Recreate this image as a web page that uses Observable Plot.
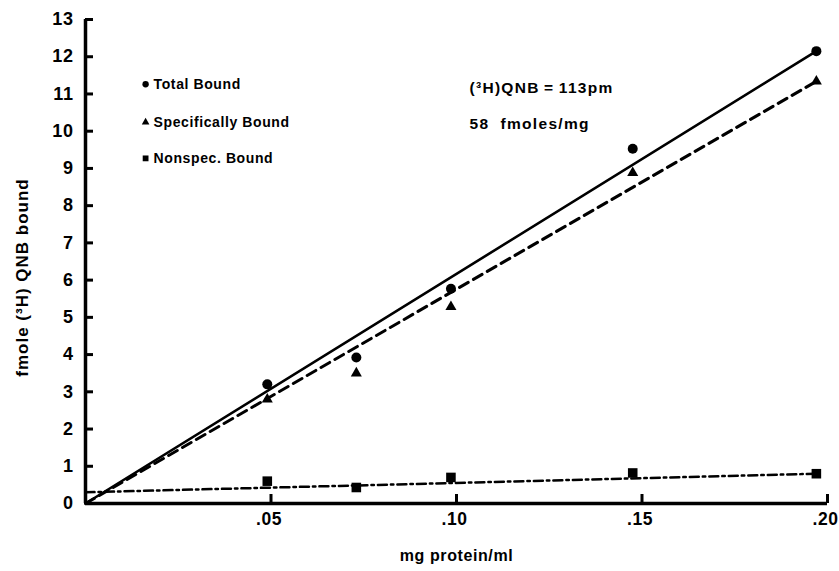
<!DOCTYPE html>
<html>
<head>
<meta charset="utf-8">
<script src="https://cdn.jsdelivr.net/npm/d3@7"></script>
<script src="https://cdn.jsdelivr.net/npm/@observablehq/plot@0.6"></script>
<style>
  html, body { margin: 0; padding: 0; background: #fff; }
  #chart svg { display: block; }
</style>
</head>
<body>
<div id="chart"></div>
<script>
// Data
const protein       = [0.049, 0.073, 0.0985, 0.1475, 0.197];   // mg protein/ml
const totalBound    = [3.2, 3.92, 5.77, 9.53, 12.15];          // fmole bound
const specBound     = [2.8, 3.5, 5.28, 8.88, 11.34];
const nonspecBound  = [0.6, 0.43, 0.70, 0.82, 0.80];

// fitted lines (endpoints)
const fitX          = [0, 0.197];
const totalFit      = [0, 12.15];
const specFit       = [0, 11.34];
const nonspecFit    = [0.3, 0.80];

const xTicks = [0.05, 0.10, 0.15, 0.20];
const yTicks = [0,1,2,3,4,5,6,7,8,9,10,11,12,13];

const legendLabels  = ["Total Bound", "Specifically Bound", "Nonspec. Bound"];
const legendSymbols = ["circle", "triangle", "square"];
const legendY       = [11.26, 10.24, 9.27];
const legendX       = 0.0162;

const noteLines = ["(\u00B3H)QNB\u2009=\u2009113pm", "58  fmoles/mg"];
const noteY     = [11.17, 10.2];
const noteX     = 0.1035;

const pts = (ys) => protein.map((x, i) => ({x, y: ys[i]}));
const fit = (ys) => fitX.map((x, i) => ({x, y: ys[i]}));

const font = "'Liberation Sans', Arial, Helvetica, sans-serif";

const W = 839, H = 571, ML = 85, MR = 12, MT = 19, MB = 68;
const xDomain = [0, 0.2], yDomain = [0, 13];
// inward tick lengths converted from pixels to data units
const yTickLen = 8 * (xDomain[1] - xDomain[0]) / (W - ML - MR);
const xTickLen = 9 * (yDomain[1] - yDomain[0]) / (H - MT - MB);

const chart = Plot.plot({
  width: W,
  height: H,
  marginLeft: ML,
  marginRight: MR,
  marginTop: MT,
  marginBottom: MB,
  style: {fontFamily: font, background: "#fff", color: "#000"},
  x: {domain: xDomain},
  y: {domain: yDomain},
  marks: [
    // axis tick labels
    Plot.axisY(yTicks, {tickSize: 0, tickPadding: 12, fontSize: 18, fontWeight: "bold", label: null}),
    Plot.axisX(xTicks, {tickSize: 0, tickPadding: 9, dx: -2, fontSize: 17.5, fontWeight: "bold", label: null,
      tickFormat: d => d.toFixed(2).replace(/^0/, "")}),
    // inward ticks
    Plot.ruleY(yTicks, {y: d => d, x1: 0, x2: yTickLen, strokeWidth: 3}),
    Plot.ruleX(xTicks, {x: d => d, y1: 0, y2: xTickLen, strokeWidth: 3}),
    // axis lines
    Plot.ruleX([0], {strokeWidth: 3.5}),
    Plot.ruleY([0], {strokeWidth: 3.5}),
    // fitted lines
    Plot.line(fit(totalFit), {x: "x", y: "y", strokeWidth: 2.6}),
    Plot.line(fit(specFit), {x: "x", y: "y", strokeWidth: 3, strokeDasharray: "10,6"}),
    Plot.line(fit(nonspecFit), {x: "x", y: "y", strokeWidth: 2.5, strokeDasharray: "9,4,2.5,4"}),
    // data points
    Plot.dot(pts(totalBound), {x: "x", y: "y", r: 5, fill: "#000", symbol: "circle"}),
    Plot.dot(pts(specBound), {x: "x", y: "y", r: 4.1, fill: "#000", symbol: "triangle"}),
    Plot.dot(pts(nonspecBound), {x: "x", y: "y", r: 5.4, fill: "#000", symbol: "square"}),
    // legend
    Plot.dot(legendLabels, {x: () => legendX, y: (d, i) => legendY[i], symbol: (d, i) => legendSymbols[i],
      r: (d, i) => [4.5, 3.6, 4.8][i], fill: "#000"}),
    Plot.text(legendLabels, {x: () => legendX, y: (d, i) => legendY[i], text: d => d, dx: 8,
      textAnchor: "start", fontSize: 14, fontWeight: "bold"}),
    // annotation
    Plot.text(noteLines, {x: () => noteX, y: (d, i) => noteY[i], text: d => d,
      textAnchor: "start", fontSize: 15.5, fontWeight: "bold", className: "note"}),
    // axis titles
    Plot.text(["mg protein/ml"], {frameAnchor: "bottom", dy: 57, fontSize: 16, fontWeight: "bold"}),
    Plot.text(["fmole (\u00B3H) QNB bound"], {frameAnchor: "left", textAnchor: "middle", dx: -63, dy: 16,
      rotate: -90, fontSize: 17, fontWeight: "bold", className: "ytitle"})
  ]
});
chart.querySelectorAll("text").forEach(t => t.style.letterSpacing = "0.6px");
chart.querySelectorAll(".note text").forEach(t => t.style.letterSpacing = "1.3px");
chart.querySelectorAll(".ytitle text").forEach(t => t.style.letterSpacing = "1px");
document.getElementById("chart").appendChild(chart);
</script>
</body>
</html>
